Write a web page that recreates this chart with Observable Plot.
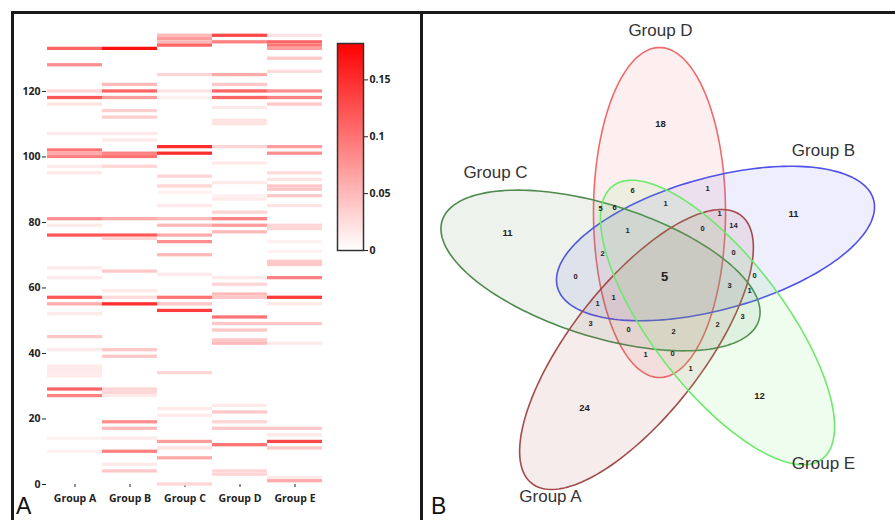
<!DOCTYPE html>
<html>
<head>
<meta charset="utf-8">
<script src="https://cdn.jsdelivr.net/npm/d3@7"></script>
<script src="https://cdn.jsdelivr.net/npm/@observablehq/plot@0.6"></script>
<style>
  html, body { margin: 0; padding: 0; background: white; }
  #root { position: relative; width: 895px; height: 520px; overflow: hidden; background: white; }
  #root > * { position: absolute; }
  .panel-frame { left: 11px; top: 11px; width: 900px; height: 520px; border-left: 3px solid #1a1a1a; border-top: 3px solid #1a1a1a; box-sizing: border-box; }
  .divider { left: 420px; top: 11px; width: 3px; height: 520px; background: #1a1a1a; }
  .panel-label { font-family: "Liberation Sans", Arial, sans-serif; font-size: 23px; color: #111; }
</style>
</head>
<body>
<div id="root">
  <div class="panel-frame"></div>
  <div class="divider"></div>
  <div class="panel-label" style="left:16px;top:493px;">A</div>
  <div class="panel-label" style="left:431px;top:493px;">B</div>
</div>
<script>
// ---------- Panel A: heatmap data (row, relative abundance) ----------
const groups = ["Group A", "Group B", "Group C", "Group D", "Group E"];

const groupA = [[133,0.11],[128,0.08],[120,0.03],[118,0.12],[116,0.02],[107,0.015],[102,0.10],[101,0.06],[100,0.09],
  [97,0.015],[95,0.015],[81,0.08],[79,0.015],[76,0.12],[66,0.015],[63,0.015],[57,0.12],[55,0.06],[52,0.015],
  [45,0.04],[41,0.015],[36,0.015],[35,0.015],[34,0.015],[33,0.015],[29,0.11],[27,0.09],[14,0.01],[10,0.01]];

const groupB = [[133,0.17],[122,0.05],[120,0.11],[118,0.07],[114,0.035],[112,0.035],[107,0.015],[105,0.015],
  [101,0.09],[100,0.10],[97,0.03],[81,0.06],[76,0.12],[75,0.03],[65,0.04],[59,0.015],[57,0.025],[55,0.15],
  [41,0.04],[39,0.04],[29,0.03],[28,0.03],[27,0.015],[19,0.08],[17,0.05],[14,0.015],[10,0.09],[6,0.015],[4,0.04]];

const groupC = [[137,0.05],[136,0.07],[135,0.05],[134,0.11],[125,0.03],[120,0.02],[118,0.01],[103,0.15],[101,0.15],
  [94,0.03],[91,0.03],[89,0.01],[85,0.015],[81,0.05],[79,0.05],[76,0.06],[74,0.08],[70,0.05],[64,0.015],
  [57,0.10],[55,0.04],[53,0.14],[34,0.03],[23,0.015],[21,0.015],[13,0.07],[11,0.02],[8,0.06],[0,0.03]];

const groupD = [[137,0.13],[135,0.09],[125,0.06],[122,0.04],[120,0.11],[118,0.11],[115,0.015],[111,0.02],[110,0.02],
  [103,0.03],[98,0.015],[92,0.015],[88,0.01],[87,0.015],[83,0.03],[81,0.09],[79,0.07],[77,0.05],[63,0.015],
  [61,0.03],[58,0.05],[57,0.04],[51,0.10],[49,0.04],[47,0.04],[44,0.04],[43,0.05],[24,0.015],[22,0.04],
  [19,0.03],[17,0.04],[12,0.10],[4,0.03],[3,0.03]];

const groupE = [[137,0.02],[135,0.11],[134,0.10],[133,0.07],[130,0.04],[126,0.025],[120,0.08],[118,0.09],[116,0.04],
  [103,0.07],[101,0.08],[95,0.025],[93,0.02],[91,0.04],[90,0.04],[88,0.04],[85,0.02],[79,0.03],[78,0.03],
  [74,0.01],[71,0.01],[68,0.04],[67,0.04],[63,0.09],[57,0.14],[55,0.015],[49,0.04],[43,0.015],[17,0.04],
  [15,0.015],[13,0.13],[11,0.04],[2,0.015],[1,0.06]];

const yTicks = [0, 20, 40, 60, 80, 100, 120];
const colorTicks = [0, 0.05, 0.1, 0.15];
const colorMax = 0.182;

// ---------- Panel B: Venn diagram ----------
const vennSets = ["Group D", "Group B", "Group C", "Group A", "Group E"];
const vennStroke = ["#ef6b6b", "#5050ea", "#4e8a4e", "#a34b4b", "#6ee86e"];
const vennFill   = ["#f07070", "#6060f0", "#5a8a5a", "#b05050", "#70f070"];
// ellipse geometry in panel pixels: centre x, centre y, semi-major, semi-minor, angle (deg)
const vennCx = [659, 715, 600, 636, 717];
const vennCy = [212, 243, 270, 349, 322];
const vennA  = [165, 164, 166, 170, 172];
const vennB  = [66, 66, 66, 66, 66];
const vennAngle = [90, 15.5, -17.5, 52, -52.5];
const vennLabelX = [660, 823, 495, 550, 823];
const vennLabelY = [30, 150, 172, 496, 463];

const regionCounts = ["18","11","11","24","12","5","6","1","5","6","1","1","14","1","0","2","0","0","0","3","1","1","1","3","0","2","2","3","1","0","1"];
const regionX = [660,793,507,584,759,664,632,707,600,614,665,719,733,627,702,602,733,575,754,729,749,613,597,590,628,673,717,742,645,672,690];
const regionY = [123,213,232,407,395,276,190,188,208,207,203,213,225,230,228,253,252,276,275,285,290,297,303,323,329,331,324,316,354,353,368];

// ---------- build heatmap ----------
const root = document.getElementById("root");
const series = [groupA, groupB, groupC, groupD, groupE];
const cells = groups.flatMap((g, i) => series[i].map(([row, value]) => ({group: g, row, value})));
const colorScale = {type: "linear", domain: [0, colorMax], range: ["#ffffff", "#ff0000"]};
const tickStyle = {background: "transparent", fontFamily: "'Open Sans', sans-serif", fontWeight: "bold", fontSize: "10.5px", color: "#222"};

const heat = Plot.plot({
  width: 420, height: 520,
  marginLeft: 46, marginRight: 97, marginTop: 32, marginBottom: 36,
  style: tickStyle,
  x: {domain: groups, padding: 0, label: null, tickSize: 3, tickPadding: 7},
  y: {domain: [0, 138], ticks: yTicks, label: null, tickSize: 4, tickPadding: 2},
  color: colorScale,
  marks: [
    Plot.barY(cells, {x: "group", y1: d => d.row - 0.5, y2: d => d.row + 0.5, fill: "value"})
  ]
});
heat.style.left = "0px"; heat.style.top = "0px";
root.appendChild(heat);

// ---------- colour bar ----------
const ramp = d3.range(0, colorMax, 0.001).map(v => ({v0: v, v1: Math.min(v + 0.002, colorMax), mid: v + 0.0005}));
const bar = Plot.plot({
  width: 74, height: 227,
  marginLeft: 7, marginRight: 41, marginTop: 10, marginBottom: 10,
  style: {...tickStyle, fontSize: "10.5px"},
  x: {domain: [0, 1], axis: null},
  y: {domain: [0, colorMax], ticks: colorTicks, tickFormat: d => String(d), label: null, axis: "right", tickSize: 4, tickPadding: 2},
  color: colorScale,
  marks: [
    Plot.rect(ramp, {x1: 0, x2: 1, y1: "v0", y2: "v1", fill: "mid", shapeRendering: "crispEdges"}),
    Plot.frame({stroke: "#333", strokeWidth: 1.5})
  ]
});
bar.style.left = "330px"; bar.style.top = "33px";
root.appendChild(bar);

// ---------- Venn ----------
const ellipsePts = [];
vennSets.forEach((name, i) => {
  const th = vennAngle[i] * Math.PI / 180;
  const ux = Math.cos(th), uy = -Math.sin(th);
  const vx = Math.sin(th), vy = Math.cos(th);
  for (let k = 0; k <= 180; k++) {
    const t = (k / 180) * 2 * Math.PI;
    const a = vennA[i] * Math.cos(t), b = vennB[i] * Math.sin(t);
    ellipsePts.push({set: name, idx: i, x: vennCx[i] + a * ux + b * vx, y: vennCy[i] + a * uy + b * vy});
  }
});
const regions = regionCounts.map((c, i) => ({c, x: regionX[i], y: regionY[i], big: i === 5 ? 2 : (i < 5 ? 1 : 0)}));
const labels = vennSets.map((s, i) => ({s, x: vennLabelX[i], y: vennLabelY[i]}));

const venn = Plot.plot({
  width: 475, height: 520,
  margin: 0,
  style: {background: "transparent", fontFamily: "'Liberation Sans', Arial, sans-serif"},
  x: {domain: [420, 895], range: [0, 475], axis: null},
  y: {domain: [0, 520], range: [0, 520], axis: null},
  marks: [
    ...vennSets.map((s, i) => Plot.line(ellipsePts.filter(d => d.idx === i), {
      x: "x", y: "y", fill: vennFill[i], fillOpacity: 0.11, stroke: vennStroke[i], strokeWidth: 1.6, curve: "linear-closed"
    })),
    Plot.text(regions.filter(d => d.big === 0), {x: "x", y: "y", text: "c", fontSize: 7.5, fontWeight: "bold", fill: "#222"}),
    Plot.text(regions.filter(d => d.big === 1), {x: "x", y: "y", text: "c", fontSize: 9.5, fontWeight: "bold", fill: "#222"}),
    Plot.text(regions.filter(d => d.big === 2), {x: "x", y: "y", text: "c", fontSize: 13, fontWeight: "bold", fill: "#222"}),
    Plot.text(labels, {x: "x", y: "y", text: "s", fontSize: 17, fill: "#333"})
  ]
});
venn.style.left = "420px"; venn.style.top = "0px";
root.appendChild(venn);
</script>
</body>
</html>
